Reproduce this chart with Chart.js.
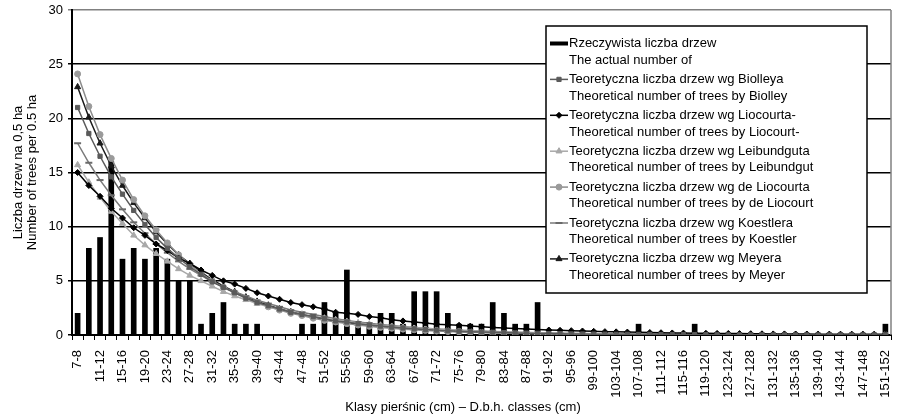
<!DOCTYPE html>
<html>
<head>
<meta charset="utf-8">
<script src="https://cdn.jsdelivr.net/npm/chart.js"></script>
<style>
  body { margin: 0; background: #fff; }
</style>
</head>
<body>
<canvas id="myChart" width="897" height="417"></canvas>
<script>
// diameter classes (cm)
const classes = ['7-8','9-10','11-12','13-14','15-16','17-18','19-20','21-22','23-24','25-26',
  '27-28','29-30','31-32','33-34','35-36','37-38','39-40','41-42','43-44','45-46',
  '47-48','49-50','51-52','53-54','55-56','57-58','59-60','61-62','63-64','65-66',
  '67-68','69-70','71-72','73-74','75-76','77-78','79-80','81-82','83-84','85-86',
  '87-88','89-90','91-92','93-94','95-96','97-98','99-100','101-102','103-104','105-106',
  '107-108','109-110','111-112','113-114','115-116','117-118','119-120','121-122','123-124','125-126',
  '127-128','129-130','131-132','133-134','135-136','137-138','139-140','141-142','143-144','145-146',
  '147-148','149-150','151-152'];

// actual number of trees
const actual = [2,8,9,16,7,8,7,8,7,5,
  5,1,2,3,1,1,1,0,0,0,
  1,1,3,2,6,1,1,2,2,1,
  4,4,4,2,1,1,1,3,2,1,
  1,3,0,0,0,0,0,0,0,0,
  1,0,0,0,0,1,0,0,0,0,
  0,0,0,0,0,0,0,0,0,0,
  0,0,1];

const biolley = [21.0,18.6,16.5,14.6,13.0,11.5,10.2,9.0,8.0,7.1,
  6.3,5.6,4.9,4.4,3.9,3.4,3.0,2.7,2.4,2.1,
  1.9,1.7,1.5,1.3,1.2,1.05,0.93,0.82,0.73,0.65,
  0.57,0.5,0.45,0.4,0.35,0.31,0.28,0.25,0.22,0.19,
  0.17,0.15,0.13,0.12,0.1,0.09,0.08,0.07,0.06,0.06,
  0.05,0.05,0.04,0.04,0.03,0.03,0.03,0.02,0.02,0.02,
  0.02,0.02,0.01,0.01,0.01,0.01,0.01,0.01,0.01,0.01,
  0.01,0.01,0.01];

const liocourt = [15.0,13.8,12.8,11.7,10.8,9.9,9.2,8.4,7.8,7.1,
  6.6,6.0,5.5,5.0,4.7,4.3,3.9,3.6,3.3,3.0,
  2.8,2.6,2.4,2.1,2.0,1.9,1.7,1.6,1.4,1.3,
  1.2,1.1,1.0,0.95,0.9,0.82,0.76,0.7,0.65,0.6,
  0.55,0.5,0.46,0.43,0.4,0.37,0.34,0.31,0.29,0.27,
  0.25,0.23,0.21,0.19,0.18,0.17,0.16,0.15,0.14,0.13,
  0.12,0.11,0.1,0.1,0.09,0.09,0.08,0.08,0.07,0.07,
  0.07,0.06,0.06];

const leibundgut = [15.7,14.1,12.7,11.4,10.3,9.2,8.3,7.5,6.8,6.1,
  5.5,5.0,4.5,4.0,3.6,3.25,2.9,2.6,2.35,2.1,
  1.9,1.7,1.55,1.4,1.25,1.12,1.0,0.9,0.81,0.73,
  0.66,0.59,0.53,0.48,0.43,0.39,0.35,0.31,0.28,0.25,
  0.23,0.2,0.18,0.16,0.15,0.13,0.12,0.11,0.1,0.09,
  0.08,0.07,0.07,0.06,0.05,0.05,0.04,0.04,0.04,0.03,
  0.03,0.03,0.03,0.02,0.02,0.02,0.02,0.02,0.02,0.01,
  0.01,0.01,0.01];

const deLiocourt = [24.1,21.1,18.5,16.3,14.3,12.5,11.0,9.7,8.5,7.4,
  6.5,5.7,5.0,4.4,3.9,3.4,3.0,2.6,2.3,2.0,
  1.8,1.55,1.35,1.2,1.05,0.92,0.8,0.7,0.62,0.54,
  0.48,0.42,0.37,0.32,0.28,0.25,0.22,0.19,0.17,0.15,
  0.13,0.11,0.1,0.09,0.08,0.07,0.06,0.05,0.05,0.04,
  0.04,0.03,0.03,0.03,0.02,0.02,0.02,0.02,0.01,0.01,
  0.01,0.01,0.01,0.01,0.01,0.01,0.01,0.01,0.01,0.01,
  0.01,0.01,0.01];

const koestler = [17.7,15.9,14.3,12.9,11.6,10.4,9.4,8.4,7.6,6.8,
  6.1,5.5,4.9,4.4,4.0,3.6,3.2,2.9,2.6,2.3,
  2.1,1.9,1.7,1.5,1.35,1.2,1.08,0.97,0.87,0.78,
  0.7,0.63,0.56,0.5,0.45,0.4,0.36,0.33,0.29,0.26,
  0.24,0.21,0.19,0.17,0.15,0.14,0.12,0.11,0.1,0.09,
  0.08,0.07,0.07,0.06,0.05,0.05,0.04,0.04,0.04,0.03,
  0.03,0.03,0.03,0.02,0.02,0.02,0.02,0.02,0.02,0.01,
  0.01,0.01,0.01];

const meyer = [22.9,20.1,17.7,15.6,13.8,12.2,10.8,9.5,8.4,7.4,
  6.6,5.8,5.1,4.5,4.0,3.5,3.1,2.75,2.4,2.15,
  1.9,1.65,1.45,1.3,1.15,1.0,0.9,0.8,0.7,0.62,
  0.55,0.48,0.43,0.38,0.33,0.29,0.26,0.23,0.2,0.18,
  0.16,0.14,0.12,0.11,0.1,0.09,0.08,0.07,0.06,0.05,
  0.05,0.04,0.04,0.03,0.03,0.03,0.02,0.02,0.02,0.02,
  0.02,0.01,0.01,0.01,0.01,0.01,0.01,0.01,0.01,0.01,
  0.01,0.01,0.01];

// legend texts (two lines each)
const namesPl = ['Rzeczywista liczba drzew',
  'Teoretyczna liczba drzew wg Biolleya',
  'Teoretyczna liczba drzew wg Liocourta-',
  'Teoretyczna liczba drzew wg Leibundguta',
  'Teoretyczna liczba drzew wg de Liocourta',
  'Teoretyczna liczba drzew wg Koestlera',
  'Teoretyczna liczba drzew wg Meyera'];
const namesEn = ['The actual number of',
  'Theoretical number of trees by Biolley',
  'Theoretical number of trees by Liocourt-',
  'Theoretical number of trees by Leibundgut',
  'Theoretical number of trees by de Liocourt',
  'Theoretical number of trees by Koestler',
  'Theoretical number of trees by Meyer'];

const yTicks = [0, 5, 10, 15, 20, 25, 30];
const xTitle = 'Klasy pierśnic (cm) – D.b.h. classes (cm)';

const FONT = 'Liberation Sans, Arial, sans-serif';

function lineSet(label, data, color, markColor, style, radius) {
    return {
        type: 'line',
        label: label,
        data: data,
        borderColor: color,
        borderWidth: 1.5,
        pointStyle: style,
        pointRadius: radius,
        pointBackgroundColor: markColor,
        pointBorderColor: markColor,
        pointBorderWidth: style === 'line' ? 2 : 1,
        tension: 0,
        fill: false,
        order: 0
    };
}

// legend drawn as a white box over the plot, like the original
const boxLegend = {
    id: 'boxLegend',
    afterDraw(chart, args, o) {
        const ctx = chart.ctx;
        ctx.save();
        ctx.fillStyle = '#fff';
        ctx.fillRect(o.left, o.top, o.right - o.left, o.bottom - o.top);
        ctx.strokeStyle = '#000';
        ctx.lineWidth = 1.5;
        ctx.strokeRect(o.left, o.top, o.right - o.left, o.bottom - o.top);
        ctx.font = '13px ' + FONT;
        ctx.textBaseline = 'middle';
        chart.data.datasets.forEach((ds, i) => {
            const y = o.firstY + i * o.rowGap;
            const x0 = o.left + 4;
            if (ds.type === 'bar') {
                ctx.fillStyle = ds.backgroundColor;
                ctx.fillRect(x0, y - 2, 18, 4);
            } else {
                ctx.strokeStyle = ds.borderColor;
                ctx.lineWidth = 1.5;
                ctx.beginPath();
                ctx.moveTo(x0, y);
                ctx.lineTo(x0 + 18, y);
                ctx.stroke();
                ctx.fillStyle = ds.pointBackgroundColor;
                ctx.strokeStyle = ds.pointBorderColor;
                ctx.lineWidth = ds.pointBorderWidth;
                Chart.helpers.drawPoint(ctx, {pointStyle: ds.pointStyle, radius: ds.pointRadius, rotation: 0, borderWidth: ds.pointBorderWidth}, x0 + 9, y);
            }
            ctx.fillStyle = '#000';
            ctx.fillText(namesPl[i], x0 + 19, y);
            ctx.fillText(namesEn[i], x0 + 19, y + o.lineGap);
        });
        ctx.restore();
    }
};

// gray frame line on the right of the plot + x axis title (sits a bit left of centre)
const frameAndTitle = {
    id: 'frameAndTitle',
    beforeDatasetsDraw(chart) {
        const a = chart.chartArea, ctx = chart.ctx;
        ctx.save();
        ctx.strokeStyle = '#808080';
        ctx.lineWidth = 1.5;
        ctx.beginPath();
        ctx.moveTo(a.right, a.top);
        ctx.lineTo(a.right, a.bottom);
        ctx.stroke();
        ctx.restore();
    },
    afterDraw(chart, args, o) {
        const ctx = chart.ctx;
        ctx.save();
        ctx.font = '13px ' + FONT;
        ctx.fillStyle = '#000';
        ctx.textAlign = 'center';
        ctx.textBaseline = 'middle';
        ctx.fillText(xTitle, o.x, o.y);
        ctx.restore();
    }
};

function chartMaker() {
    let myChart = document.getElementById('myChart').getContext('2d');

    Chart.defaults.font.size = 13;
    Chart.defaults.font.family = FONT;
    Chart.defaults.color = '#000';

    new Chart(myChart, {
        data: {
            labels: classes,
            datasets: [
                {
                    type: 'bar',
                    label: namesPl[0],
                    data: actual,
                    backgroundColor: '#000',
                    barThickness: 5,
                    order: 1
                },
                lineSet(namesPl[1], biolley, '#5a5a5a', '#5a5a5a', 'rect', 3),
                lineSet(namesPl[2], liocourt, '#000', '#000', 'rectRot', 3),
                lineSet(namesPl[3], leibundgut, '#a8a8a8', '#a8a8a8', 'triangle', 3.5),
                lineSet(namesPl[4], deLiocourt, '#8c8c8c', '#9a9a9a', 'circle', 3),
                lineSet(namesPl[5], koestler, '#7a7a7a', '#6a6a6a', 'line', 3.5),
                lineSet(namesPl[6], meyer, '#1a1a1a', '#1a1a1a', 'triangle', 3.5)
            ]
        },
        options: {
            responsive: false,
            animation: false,
            layout: { padding: { top: 10, right: 3, left: 0, bottom: 0 } },
            plugins: {
                legend: { display: false },
                tooltip: { enabled: false },
                boxLegend: { left: 546, top: 26, right: 867, bottom: 293, firstY: 43.5, rowGap: 35.9, lineGap: 16.7 },
                frameAndTitle: { x: 463, y: 407 }
            },
            scales: {
                x: {
                    offset: true,
                    grid: { drawOnChartArea: false, drawTicks: true, tickLength: 5, color: '#000', lineWidth: 1, offset: true },
                    border: { color: '#000', width: 2 },
                    ticks: {
                        autoSkip: false, maxRotation: 90, minRotation: 90, padding: 10, color: '#000',
                        callback: (v, i) => (i % 2 === 0 ? classes[i] : '')
                    },
                    afterFit: (s) => { s.height = 82; s.paddingLeft = 0; s.paddingRight = 0; }
                },
                y: {
                    min: 0, max: 30,
                    afterBuildTicks: (s) => { s.ticks = yTicks.map(v => ({ value: v })); },
                    grid: {
                        color: (c) => (c.tick && c.tick.value === 30 ? '#808080' : '#000'),
                        lineWidth: 1.5, tickLength: 4
                    },
                    border: { color: '#000', width: 2 },
                    ticks: { padding: 5, color: '#000' },
                    title: { display: true, text: ['Liczba drzew na 0,5 ha', 'Number of trees per 0.5 ha'], padding: { top: 11, bottom: 0 }, font: { size: 13, lineHeight: 1.08 } },
                    afterFit: (s) => { s.width = 72; s.paddingTop = 0; s.paddingBottom = 0; }
                }
            }
        },
        plugins: [frameAndTitle, boxLegend]
    });
}

chartMaker();
</script>
</body>
</html>
